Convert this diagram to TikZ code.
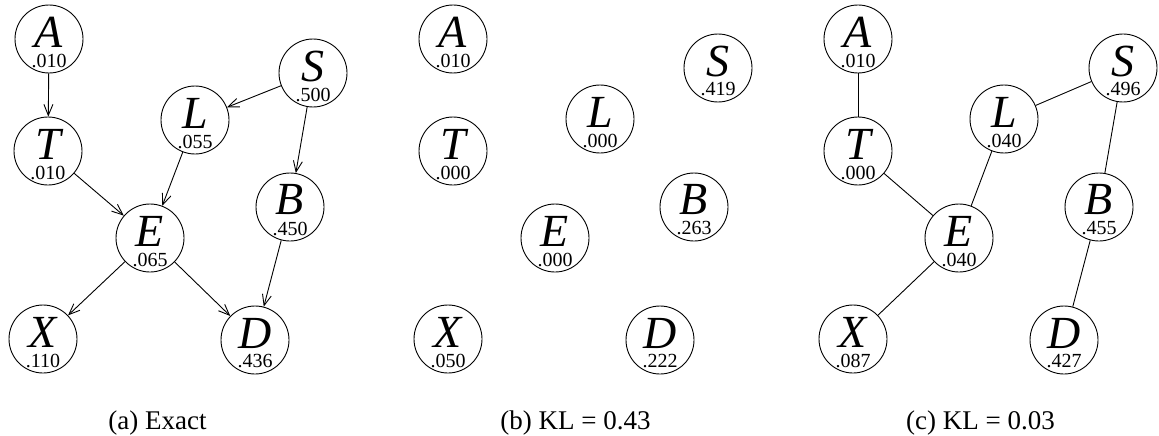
\documentclass[tikz,border=0pt]{standalone}
\usepackage{fontspec}
\setmainfont{Liberation Serif}
\usetikzlibrary{arrows.meta}
\newcommand\vnode[5]{%
  \node[vcirc] (#1) at (#2,#3) {};
  \node[vlet] (#1l) at (#2,{#3-7}) {#4};
  \node[vval] (#1v) at (#2,{#3+21.5}) {#5};
}
\tikzset{
  vcirc/.style={circle, draw, line width=0.9pt, minimum size=68pt, inner sep=0pt},
  vlet/.style={inner sep=0pt, font=\fontsize{46}{46}\selectfont\itshape},
  vval/.style={inner sep=0pt, font=\fontsize{20}{20}\selectfont},
  captext/.style={inner sep=0pt, anchor=base, font=\fontsize{27}{27}\selectfont},
  dedge/.style={line width=0.9pt, -{Straight Barb[length=11pt,width=9pt]}},
  uedge/.style={line width=0.9pt},
}
\begin{document}
\begin{tikzpicture}[x=1pt,y=-1pt]
\useasboundingbox (0,0) rectangle (1159,436);
% (a)
\vnode{aA}{49}{39}{A}{.010}
\vnode{aT}{48}{151}{T}{.010}
\vnode{aL}{195}{120}{L}{.055}
\vnode{aS}{313}{73}{S}{.500}
\vnode{aB}{290}{207}{B}{.450}
\vnode{aE}{150}{238}{E}{.065}
\vnode{aX}{43}{339}{X}{.110}
\vnode{aD}{255}{340}{D}{.436}
\draw[dedge] (aA) -- (aT);
\draw[dedge] (aS) -- (aL);
\draw[dedge] (aS) -- (aB);
\draw[dedge] (aT) -- (aE);
\draw[dedge] (aL) -- (aE);
\draw[dedge] (aE) -- (aX);
\draw[dedge] (aE) -- (aD);
\draw[dedge] (aB) -- (aD);
\node[captext] (capa) at (157.5,429) {(a) Exact};
% (b)
\vnode{bA}{453}{39}{A}{.010}
\vnode{bT}{453}{151}{T}{.000}
\vnode{bL}{600}{119}{L}{.000}
\vnode{bS}{718}{68}{S}{.419}
\vnode{bB}{694}{207}{B}{.263}
\vnode{bE}{555}{238}{E}{.000}
\vnode{bX}{448}{339}{X}{.050}
\vnode{bD}{660}{340}{D}{.222}
\node[captext] (capb) at (575.5,429) {(b) KL = 0.43};
% (c)
\vnode{cA}{858}{39}{A}{.010}
\vnode{cT}{858}{151}{T}{.000}
\vnode{cL}{1004}{119}{L}{.040}
\vnode{cS}{1123}{68}{S}{.496}
\vnode{cB}{1099}{207}{B}{.455}
\vnode{cE}{959}{238}{E}{.040}
\vnode{cX}{853}{339}{X}{.087}
\vnode{cD}{1064}{340}{D}{.427}
\draw[uedge] (cA) -- (cT);
\draw[uedge] (cS) -- (cL);
\draw[uedge] (cS) -- (cB);
\draw[uedge] (cT) -- (cE);
\draw[uedge] (cL) -- (cE);
\draw[uedge] (cE) -- (cX);
\draw[uedge] (cB) -- (cD);
\node[captext] (capc) at (980.5,429) {(c) KL = 0.03};
\end{tikzpicture}
\end{document}
